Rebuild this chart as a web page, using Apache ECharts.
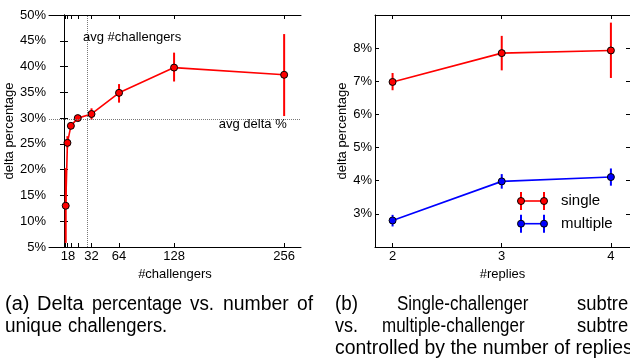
<!DOCTYPE html>
<html><head><meta charset="utf-8">
<script src="https://cdn.jsdelivr.net/npm/echarts@6/dist/echarts.min.js"></script>
<style>html,body{margin:0;padding:0;background:#fff}#c{width:630px;height:360px}</style>
</head><body><div id="c"></div>
<script>
// ---- (a) delta percentage vs. number of unique challengers ----
const challengers = [2, 4, 8, 16, 32, 64, 128, 256];
const deltaPct  = [13.0, 25.2, 28.5, 30.0, 30.8, 34.9, 39.8, 38.4];
const deltaLow  = [5.8, 24.3, 27.9, 29.6, 29.7, 33.0, 37.1, 30.4];
const deltaHigh = [20.3, 26.5, 29.1, 30.4, 31.9, 36.6, 42.7, 46.3];
const challTicks  = [2, 4, 8, 16, 32, 64, 128, 256];
const challLabelValues = [8, 32, 64, 128, 256];
const challLabelTexts  = ['18', '32', '64', '128', '256'];
const avgChallengers = 27.6;
const avgDelta = 29.75;

// ---- (b) single vs multiple challenger subtrees by #replies ----
const replies = [2, 3, 4];
const singleVals  = [6.98, 7.85, 7.93];
const singleLow   = [6.73, 7.33, 7.10];
const singleHigh  = [7.25, 8.37, 8.77];
const multipleVals = [2.80, 3.98, 4.11];
const multipleLow  = [2.62, 3.76, 3.85];
const multipleHigh = [2.97, 4.20, 4.37];
const seriesNames = ['single', 'multiple'];

const FONT = 'Liberation Sans';
const RED = '#ff0000', BLUE = '#0000ff';

function errRender(color) {
  return function (params, api) {
    const x = api.value(0), lo = api.value(1), hi = api.value(2);
    const p1 = api.coord([x, lo]), p2 = api.coord([x, hi]);
    return { type: 'line', shape: { x1: p1[0], y1: p1[1], x2: p2[0], y2: p2[1] },
      style: { stroke: color, lineWidth: 2 } };
  };
}
function errData(xs, lo, hi) { return xs.map((x, i) => [x, lo[i], hi[i]]); }
function pts(xs, ys) { return xs.map((x, i) => [x, ys[i]]); }

const axisLineStyle = { show: true, lineStyle: { color: '#000', width: 1 } };
const lbl = { color: '#000', fontFamily: FONT, fontSize: 13 };

function xAx(grid, pos, min, max, ticks, labels, texts, name) {
  return {
    type: 'value', gridIndex: grid, position: pos, min: min, max: max,
    axisLine: axisLineStyle,
    axisTick: { show: true, inside: true, length: 4, lineStyle: { color: '#000' }, customValues: ticks },
    axisLabel: pos === 'bottom' ? Object.assign({
      show: true, margin: 3, customValues: labels,
      formatter: v => { const i = labels.indexOf(v); const t = i >= 0 ? texts[i] : String(v); return t === '18' ? t + '{pad|}' : t; },
      rich: { pad: { width: 6 } }
    }, lbl) : { show: false },
    splitLine: { show: false },
    name: pos === 'bottom' ? name : '', nameLocation: 'middle', nameGap: 14,
    nameTextStyle: { color: '#000', fontFamily: FONT, fontSize: 13 }
  };
}
function yAx(grid, pos, min, max, interval, fmt, name, gap) {
  return {
    type: 'value', gridIndex: grid, position: pos, min: min, max: max, interval: interval,
    axisLine: axisLineStyle,
    axisTick: { show: true, inside: true, length: 4, lineStyle: { color: '#000' } },
    axisLabel: pos === 'left' ? Object.assign({ show: true, margin: 3, formatter: fmt }, lbl) : { show: false },
    splitLine: { show: false },
    name: pos === 'left' ? name : '', nameLocation: 'middle', nameGap: gap, nameRotate: 90,
    nameTextStyle: { color: '#000', fontFamily: FONT, fontSize: 13 }
  };
}

const chart = echarts.init(document.getElementById('c'), null, { renderer: 'canvas' });

const legendItems = [];
[[seriesNames[0], RED], [seriesNames[1], BLUE]].forEach(([nm, col], i) => {
  const y = 201 + i * 22.7;
  legendItems.push(
    { type: 'line', shape: { x1: 521, y1: y, x2: 544, y2: y }, style: { stroke: col, lineWidth: 1.6 } },
    { type: 'line', shape: { x1: 521, y1: y - 9, x2: 521, y2: y + 9 }, style: { stroke: col, lineWidth: 2 } },
    { type: 'line', shape: { x1: 544, y1: y - 9, x2: 544, y2: y + 9 }, style: { stroke: col, lineWidth: 2 } },
    { type: 'circle', shape: { cx: 521, cy: y, r: 3.5 }, style: { fill: col, stroke: '#000', lineWidth: 1 } },
    { type: 'circle', shape: { cx: 544, cy: y, r: 3.5 }, style: { fill: col, stroke: '#000', lineWidth: 1 } },
    { type: 'text', x: 561, y: y, style: { text: nm, fill: '#000', font: '15px "' + FONT + '"', verticalAlign: 'middle' } }
  );
});

// caption words: text, left x, center y, horizontal squeeze
const capFont = '20px "' + FONT + '"';
const captionWords = [
  ['(a)', 5, 304, 1.0], ['Delta', 37, 304, 1.0], ['percentage', 92, 304, 0.9], ['vs.', 190, 304, 0.94],
  ['number', 223, 304, 0.97], ['of', 297, 304, 0.96],
  ['unique', 5, 326, 0.95], ['challengers.', 68, 326, 0.92],
  ['(b)', 335, 304, 0.94], ['Single-challenger', 397, 304, 0.85], ['subtre', 577, 304, 0.92],
  ['vs.', 335, 326, 0.9], ['multiple-challenger', 382, 326, 0.85], ['subtre', 577, 326, 0.92],
  ['controlled by the number of replies', 335, 348, 0.97]
];
const captionEls = captionWords.map(([t, x, y, sx]) => ({
  type: 'text', x: x, y: y, scaleX: sx,
  style: { text: t, fill: '#000', font: capFont, verticalAlign: 'middle' }
}));

chart.setOption({
  animation: false,
  backgroundColor: '#fff',
  grid: [
    { left: 49, top: 15, width: 252, height: 232 },
    { left: 375, top: 15, width: 257, height: 232 }
  ],
  xAxis: [
    xAx(0, 'bottom', -17.44, 275.6, challTicks, challLabelValues, challLabelTexts, '#challengers'),
    xAx(0, 'top', -17.44, 275.6, challTicks, challLabelValues, challLabelTexts, ''),
    xAx(1, 'bottom', 1.839, 4.175, replies, replies, replies.map(String), '#replies'),
    xAx(1, 'top', 1.839, 4.175, replies, replies, replies.map(String), '')
  ],
  yAxis: [
    yAx(0, 'left', 5, 50, 5, '{value}%', 'delta percentage', 27),
    yAx(0, 'right', 5, 50, 5, '{value}%', '', 0),
    yAx(1, 'left', 2, 9, 1, v => (v === 2 || v === 9) ? '' : v + '%', 'delta percentage', 21),
    yAx(1, 'right', 2, 9, 1, '', '', 0)
  ],
  series: [
    { type: 'custom', xAxisIndex: 0, yAxisIndex: 0, renderItem: errRender(RED), clip: true,
      encode: { x: 0, y: [1, 2] }, data: errData(challengers, deltaLow, deltaHigh), z: 2 },
    { type: 'line', xAxisIndex: 0, yAxisIndex: 0, data: pts(challengers, deltaPct), z: 3,
      symbol: 'circle', symbolSize: 7,
      itemStyle: { color: RED, borderColor: '#000', borderWidth: 1 },
      lineStyle: { color: RED, width: 1.6 },
      markLine: {
        silent: true, symbol: 'none', animation: false,
        lineStyle: { type: 'dotted', color: '#777', width: 1 }, label: { show: false },
        data: [{ xAxis: avgChallengers }, { yAxis: avgDelta }]
      },
      markPoint: {
        silent: true, symbolSize: 0, animation: false,
        data: [
          { coord: [22, 45.7], label: { show: true, position: 'right', distance: 0, formatter: 'avg #challengers',
              color: '#000', fontFamily: FONT, fontSize: 13 } },
          { coord: [259, 28.85], label: { show: true, position: 'left', distance: 0, formatter: 'avg delta %',
              color: '#000', fontFamily: FONT, fontSize: 13 } }
        ]
      }
    },
    { type: 'custom', xAxisIndex: 2, yAxisIndex: 2, renderItem: errRender(RED), clip: true,
      encode: { x: 0, y: [1, 2] }, data: errData(replies, singleLow, singleHigh), z: 2 },
    { type: 'custom', xAxisIndex: 2, yAxisIndex: 2, renderItem: errRender(BLUE), clip: true,
      encode: { x: 0, y: [1, 2] }, data: errData(replies, multipleLow, multipleHigh), z: 2 },
    { name: seriesNames[0], type: 'line', xAxisIndex: 2, yAxisIndex: 2, data: pts(replies, singleVals), z: 3,
      symbol: 'circle', symbolSize: 7,
      itemStyle: { color: RED, borderColor: '#000', borderWidth: 1 }, lineStyle: { color: RED, width: 1.6 } },
    { name: seriesNames[1], type: 'line', xAxisIndex: 2, yAxisIndex: 2, data: pts(replies, multipleVals), z: 3,
      symbol: 'circle', symbolSize: 7,
      itemStyle: { color: BLUE, borderColor: '#000', borderWidth: 1 }, lineStyle: { color: BLUE, width: 1.6 } }
  ],
  graphic: [{ type: 'group', children: legendItems.concat(captionEls) }]
});
</script></body></html>
